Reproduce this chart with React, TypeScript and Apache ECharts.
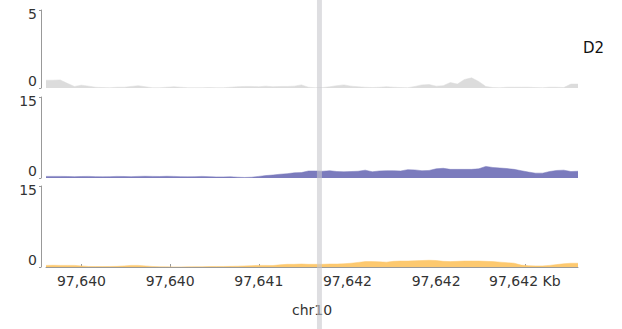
import React, { useEffect, useRef } from "react";
import * as echarts from "echarts";

// Genomic window (Kb) and bin size of the coverage tracks
const X_MIN = 97639.6;
const X_MAX = 97642.6;
const BIN_KB = 0.04;

// Axis ticks along chr10
const TICK_POS = [97639.8, 97640.3, 97640.8, 97641.3, 97641.8, 97642.3];
const TICK_LABELS = ["97,640", "97,640", "97,641", "97,642", "97,642", "97,642 Kb"];

// Cursor position (Kb)
const CURSOR_KB = 97641.142;

// Track y-axis maxima
const TRACK_MAX = [5, 15, 15];

// Coverage per bin, one array per track
const GRAY_TRACK = [
  0.5, 0.5, 0.52, 0.3, 0.1, 0.18, 0.12, 0.05, 0.03, 0.02,
  0.05, 0.05, 0.1, 0.15, 0.08, 0.02, 0.02, 0.05, 0.08, 0.05,
  0.02, 0.02, 0.02, 0.03, 0.02, 0.02, 0.05, 0.08, 0.1, 0.1,
  0.08, 0.12, 0.08, 0.1, 0.1, 0.12, 0.2, 0.05, 0.02, 0.03,
  0.08, 0.15, 0.2, 0.12, 0.08, 0.05, 0.03, 0.05, 0.08, 0.05,
  0.03, 0.02, 0.1, 0.2, 0.22, 0.12, 0.15, 0.35, 0.25, 0.55,
  0.65, 0.42, 0.1, 0.03, 0.02, 0.05, 0.05, 0.05, 0.05, 0.03,
  0.02, 0.05, 0.05, 0.03, 0.25, 0.25,
];

const PURPLE_TRACK = [
  0.3, 0.3, 0.3, 0.28, 0.25, 0.28, 0.3, 0.25, 0.22, 0.25,
  0.3, 0.28, 0.25, 0.3, 0.32, 0.3, 0.28, 0.32, 0.3, 0.25,
  0.22, 0.25, 0.3, 0.25, 0.2, 0.2, 0.22, 0.15, 0.1, 0.15,
  0.3, 0.45, 0.55, 0.7, 0.8, 0.95, 1.0, 1.3, 1.3, 1.25,
  1.35, 1.2, 1.15, 1.2, 1.25, 1.45, 1.15, 1.3, 1.35, 1.35,
  1.3, 1.55, 1.5, 1.35, 1.4, 1.7, 1.8, 1.6, 1.6, 1.6,
  1.6, 1.7, 2.15, 1.95, 1.85, 1.75, 1.6, 1.35, 1.1, 0.9,
  0.9, 1.2, 1.4, 1.45, 1.2, 1.25,
];

const ORANGE_TRACK = [
  0.3, 0.32, 0.3, 0.3, 0.3, 0.2, 0.1, 0.08, 0.08, 0.1,
  0.12, 0.2, 0.3, 0.3, 0.2, 0.1, 0.05, 0.03, 0.02, 0.02,
  0.03, 0.05, 0.05, 0.08, 0.1, 0.1, 0.12, 0.15, 0.2, 0.25,
  0.3, 0.3, 0.28, 0.4, 0.5, 0.5, 0.55, 0.5, 0.5, 0.5,
  0.55, 0.55, 0.6, 0.7, 0.85, 1.0, 1.0, 0.95, 0.9, 1.05,
  1.1, 1.1, 1.15, 1.2, 1.25, 1.2, 1.05, 1.0, 1.05, 1.1,
  1.1, 1.1, 1.05, 1.0, 0.9, 0.8, 0.7, 0.35, 0.25, 0.2,
  0.2, 0.3, 0.45, 0.6, 0.7, 0.7,
];

const TRACKS = [GRAY_TRACK, PURPLE_TRACK, ORANGE_TRACK];
const TRACK_COLORS = ["#dcdcdc", "#7b7bbd", "#fdc96f"];

const GRIDS = [
  { left: 46, top: 10, width: 532, height: 78 },
  { left: 46, top: 97, width: 532, height: 81 },
  { left: 46, top: 186, width: 532, height: 81 },
];

const TEXT_COLOR = "#333";
const AXIS_COLOR = "#999";
const FONT = "DejaVu Sans";

export default function App() {
  const ref = useRef<HTMLDivElement>(null);

  useEffect(() => {
    if (!ref.current) return;
    const chart = echarts.init(ref.current, null, { renderer: "svg" });

    const xAxes = GRIDS.map((_, i) => {
      const isBottom = i === GRIDS.length - 1;
      return {
        type: "value",
        gridIndex: i,
        min: X_MIN,
        max: X_MAX,
        show: isBottom,
        offset: isBottom ? 4 : 0,
        name: isBottom ? "chr10" : "",
        nameLocation: "middle",
        nameGap: 32,
        nameTextStyle: { color: TEXT_COLOR, fontSize: 14, fontFamily: FONT },
        splitLine: { show: false },
        axisLine: { show: isBottom, lineStyle: { color: AXIS_COLOR, width: 1 } },
        axisTick: {
          show: isBottom,
          inside: true,
          length: 3,
          customValues: TICK_POS,
          lineStyle: { color: AXIS_COLOR },
        },
        axisLabel: {
          show: isBottom,
          customValues: TICK_POS,
          margin: 3,
          color: TEXT_COLOR,
          fontSize: 14,
          fontFamily: FONT,
          formatter: (v: number) => {
            const k = TICK_POS.findIndex((p) => Math.abs(p - v) < 1e-6);
            return k >= 0 ? TICK_LABELS[k] : "";
          },
        },
      };
    });

    const yAxes = GRIDS.map((_, i) => ({
      type: "value",
      gridIndex: i,
      min: 0,
      max: TRACK_MAX[i],
      offset: 5,
      splitLine: { show: false },
      axisLine: { show: true, lineStyle: { color: AXIS_COLOR, width: 1 } },
      axisTick: {
        show: true,
        length: 2,
        customValues: [0, TRACK_MAX[i]],
        lineStyle: { color: AXIS_COLOR },
      },
      axisLabel: {
        customValues: [0, TRACK_MAX[i]],
        margin: 4,
        formatter: (v: number) => (v === 0 ? `{lo|${v}}` : `{hi|${v}}`),
        rich: {
          lo: { color: TEXT_COLOR, fontSize: 14, fontFamily: FONT, padding: [0, 0, 14, 0] },
          hi: { color: TEXT_COLOR, fontSize: 14, fontFamily: FONT, padding: [8, 0, 0, 0] },
        },
      },
    }));

    const series = TRACKS.map((vals, i) => ({
      type: "line",
      xAxisIndex: i,
      yAxisIndex: i,
      showSymbol: false,
      symbol: "none",
      lineStyle: { width: 0.5, color: TRACK_COLORS[i] },
      areaStyle: { color: TRACK_COLORS[i], opacity: 1 },
      data: vals.map((v, k) => [X_MIN + k * BIN_KB, v]),
    }));

    chart.setOption({
      animation: false,
      backgroundColor: "#fff",
      title: {
        text: "D2",
        left: 583,
        top: 40,
        padding: 0,
        textStyle: { color: "#111", fontSize: 15, fontWeight: "normal", fontFamily: FONT },
      },
      grid: GRIDS,
      xAxis: xAxes,
      yAxis: yAxes,
      series,
    });

    const cx = chart.convertToPixel({ xAxisIndex: 0 }, CURSOR_KB) as number;
    chart.setOption({
      graphic: [
        {
          type: "rect",
          z: 100,
          shape: { x: cx - 2.5, y: 0, width: 5, height: 329 },
          style: { fill: "rgba(200,200,205,0.6)" },
        },
      ],
    });

    return () => chart.dispose();
  }, []);

  return (
    <div
      ref={ref}
      style={{ position: "fixed", left: 0, top: 0, width: 622, height: 329 }}
    />
  );
}
